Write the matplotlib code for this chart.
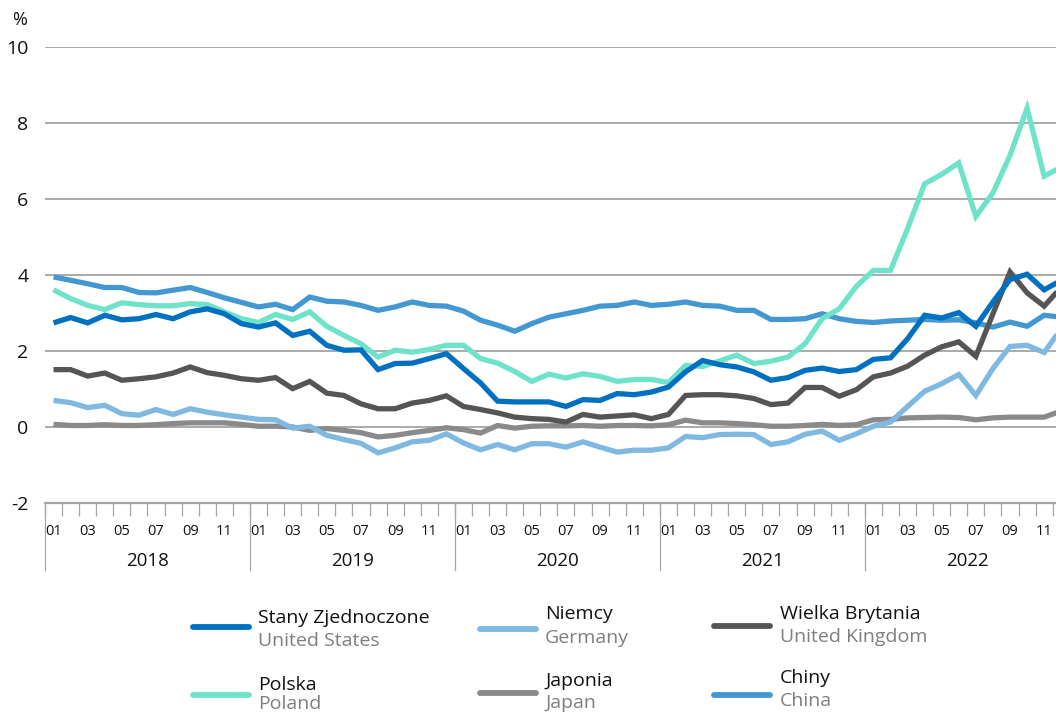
import numpy as np
import matplotlib
matplotlib.use("Agg")
import matplotlib.pyplot as plt
from matplotlib.lines import Line2D

plt.rcParams['font.family'] = ['Open Sans', 'DejaVu Sans']

# monthly data 2018-01 .. 2022-12, %
years = ['2018', '2019', '2020', '2021', '2022']
months = ['01', '03', '05', '07', '09', '11']

us = [2.74, 2.88, 2.74, 2.94, 2.82, 2.85, 2.96, 2.85, 3.03, 3.11, 2.98, 2.72,
      2.63, 2.74, 2.41, 2.52, 2.15, 2.02, 2.03, 1.51, 1.67, 1.68, 1.80, 1.93,
      1.54, 1.16, 0.68, 0.66, 0.66, 0.66, 0.54, 0.72, 0.70, 0.88, 0.85, 0.92,
      1.05, 1.45, 1.75, 1.64, 1.58, 1.45, 1.23, 1.30, 1.49, 1.55, 1.46, 1.51,
      1.78, 1.82, 2.32, 2.94, 2.87, 3.01, 2.65, 3.29, 3.88, 4.02, 3.61, 3.86]
germany = [0.70, 0.64, 0.51, 0.57, 0.35, 0.31, 0.46, 0.33, 0.48, 0.39, 0.32, 0.26,
           0.20, 0.19, -0.03, 0.02, -0.22, -0.33, -0.43, -0.68, -0.55, -0.39, -0.35, -0.18,
           -0.42, -0.60, -0.46, -0.60, -0.44, -0.44, -0.53, -0.39, -0.53, -0.66, -0.61, -0.61,
           -0.55, -0.25, -0.28, -0.20, -0.19, -0.20, -0.46, -0.39, -0.19, -0.11, -0.35, -0.18,
           0.02, 0.13, 0.54, 0.94, 1.14, 1.38, 0.83, 1.54, 2.12, 2.15, 1.96, 2.59]
uk = [1.51, 1.51, 1.34, 1.42, 1.23, 1.27, 1.32, 1.42, 1.58, 1.43, 1.36, 1.27,
      1.23, 1.30, 1.01, 1.20, 0.89, 0.83, 0.61, 0.48, 0.48, 0.63, 0.70, 0.82,
      0.54, 0.46, 0.37, 0.26, 0.22, 0.20, 0.13, 0.33, 0.26, 0.29, 0.32, 0.22,
      0.33, 0.83, 0.85, 0.85, 0.82, 0.75, 0.59, 0.63, 1.04, 1.04, 0.81, 0.98,
      1.32, 1.42, 1.60, 1.89, 2.11, 2.24, 1.86, 2.98, 4.08, 3.53, 3.18, 3.68]
poland = [3.61, 3.38, 3.20, 3.09, 3.27, 3.22, 3.19, 3.19, 3.25, 3.22, 3.03, 2.85,
          2.75, 2.96, 2.83, 3.03, 2.65, 2.41, 2.19, 1.84, 2.02, 1.97, 2.04, 2.15,
          2.15, 1.80, 1.68, 1.46, 1.20, 1.39, 1.29, 1.40, 1.33, 1.20, 1.25, 1.25,
          1.17, 1.62, 1.59, 1.74, 1.89, 1.67, 1.73, 1.84, 2.19, 2.85, 3.11, 3.70,
          4.12, 4.12, 5.22, 6.40, 6.65, 6.95, 5.54, 6.16, 7.15, 8.39, 6.60, 6.84]
japan = [0.07, 0.04, 0.04, 0.06, 0.04, 0.04, 0.06, 0.09, 0.11, 0.11, 0.11, 0.07,
         0.02, 0.02, 0.00, -0.09, -0.04, -0.09, -0.15, -0.26, -0.22, -0.15, -0.09, -0.02,
         -0.07, -0.16, 0.04, -0.03, 0.02, 0.03, 0.03, 0.04, 0.02, 0.04, 0.04, 0.03,
         0.06, 0.18, 0.11, 0.11, 0.09, 0.06, 0.02, 0.02, 0.04, 0.07, 0.04, 0.06,
         0.19, 0.20, 0.24, 0.25, 0.26, 0.25, 0.19, 0.24, 0.26, 0.26, 0.26, 0.42]
china = [3.95, 3.86, 3.77, 3.67, 3.67, 3.54, 3.53, 3.60, 3.67, 3.54, 3.40, 3.28,
         3.16, 3.23, 3.09, 3.42, 3.31, 3.29, 3.20, 3.07, 3.16, 3.29, 3.20, 3.18,
         3.05, 2.81, 2.68, 2.52, 2.72, 2.89, 2.98, 3.07, 3.18, 3.20, 3.29, 3.20,
         3.23, 3.29, 3.20, 3.18, 3.07, 3.07, 2.83, 2.83, 2.85, 2.98, 2.85, 2.78,
         2.75, 2.79, 2.81, 2.83, 2.81, 2.82, 2.74, 2.63, 2.76, 2.65, 2.94, 2.89]

names_pl = ['Stany Zjednoczone', 'Niemcy', 'Wielka Brytania', 'Polska', 'Japonia', 'Chiny']
names_en = ['United States', 'Germany', 'United Kingdom', 'Poland', 'Japan', 'China']
colors = ['#0070c0', '#7fb9e1', '#555555', '#6fe2ca', '#8a8a8a', '#4398d2']
series = [us, germany, uk, poland, japan, china]

W, H = 1056, 713
fig = plt.figure(figsize=(W / 100, H / 100), dpi=100)
# axes in pixel terms: left 45, bottom (-2) at 503, top (10) at 47, 17.08 px per month
ax = fig.add_axes([45 / W, 1 - 503 / H, 60 * 17.08 / W, 456 / H])

x = np.arange(60)
# draw order: China at the back, US on top
for k in [5, 4, 1, 2, 3, 0]:
    ax.plot(x, series[k], color=colors[k], lw=3.8, solid_joinstyle='miter',
            solid_capstyle='butt', zorder=3)

ax.set_xlim(-0.5, 59.5)
ax.set_ylim(-2, 10)
for sp in ['left', 'right', 'top']:
    ax.spines[sp].set_visible(False)
ax.spines['bottom'].set_color('#a6a6a6')
ax.spines['bottom'].set_linewidth(1.6)

ax.set_yticks(np.arange(-2, 11, 2))
ax.set_yticklabels([str(v) for v in range(-2, 11, 2)])
ax.tick_params(axis='y', length=0, pad=12, labelsize=14, labelcolor='#111111')
ax.grid(axis='y', color='#9c9c9c', lw=1.2, zorder=1)
ax.set_axisbelow(True)

# month ticks at boundaries, labels at odd months
ax.set_xticks(np.arange(-0.5, 60, 1), minor=True)
ax.tick_params(axis='x', which='minor', length=9.5, width=0.9, color='#a6a6a6')
lab_pos = [12 * k + m for k in range(len(years)) for m in range(0, 12, 2)]
ax.set_xticks(lab_pos)
ax.set_xticklabels(months * len(years))
ax.tick_params(axis='x', which='major', length=0, pad=15, labelsize=10.5, labelcolor='#111111')

# year separators and labels
trans = ax.get_xaxis_transform()
for k, yr in enumerate(years):
    ax.plot([12 * k - 0.5, 12 * k - 0.5], [0, -67 / 456], transform=trans,
            color='#a6a6a6', lw=0.9, clip_on=False)
    ax.text(12 * k + 5.5, -58 / 456, yr, transform=trans, ha='center', va='center',
            fontsize=13.5, color='#111111')

fig.text(20 / W, 1 - 20 / H, '%', ha='center', va='center', fontsize=13, color='#111111')

# legend
hx = [193, 480, 714]
tx = [258, 545, 780]
rows = [[(627, 618, 641), (629, 614, 638), (626, 614, 637)],
        [(695, 685, 704), (693, 681, 703), (695, 678, 701)]]
for i in range(6):
    r, col = divmod(i, 3)
    hy, ty1, ty2 = rows[r][col]
    fig.add_artist(Line2D([hx[col] / W, (hx[col] + 56) / W], [1 - hy / H, 1 - hy / H],
                          color=colors[i], lw=4.2, solid_capstyle='round'))
    fig.text(tx[col] / W, 1 - ty1 / H, names_pl[i], ha='left', va='center',
             fontsize=14, color='#111111')
    fig.text(tx[col] / W, 1 - ty2 / H, names_en[i], ha='left', va='center',
             fontsize=14, color='#7f7f7f')

fig.savefig('out.png', dpi=100)
